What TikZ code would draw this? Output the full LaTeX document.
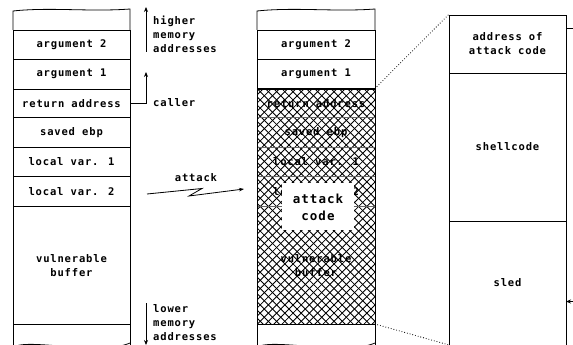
\documentclass[tikz,border=0pt]{standalone}
\usepackage{fontspec}
\setmainfont{DejaVu Sans Mono}[LetterSpace=8,BoldFont={DejaVu Sans Mono Bold}]
\usetikzlibrary{arrows.meta}
\begin{document}
\begin{tikzpicture}[x=1pt,y=-1pt,
  every node/.style={font=\fontsize{10.5}{14}\selectfont\bfseries, inner sep=0pt},
  cell/.style={draw, line width=0.8pt, minimum width=117pt},
  edge/.style={line width=0.8pt},
  faint/.style={line width=0.5pt, black!60},
  hatchline/.style={line width=0.85pt},
  arr/.style={line width=0.8pt, -{Stealth[length=5pt,width=4pt]}},
  dots/.style={line width=1.1pt, line cap=round, dash pattern=on 0pt off 2.8pt}]
\useasboundingbox (0,0) rectangle (573,345);
% ---------- column 1 ----------
\draw[edge] (13,30) -- (13,11) .. controls (50,7) and (90,12) .. (130,9) -- (130,30);
\node[cell, minimum height=29.5pt] (a2) at (71.5,44.75) {argument 2};
\node[cell, minimum height=29.5pt] (a1) at (71.5,74.25) {argument 1};
\node[cell, minimum height=28.5pt] (ra) at (71.5,103.25) {return address};
\node[cell, minimum height=29.5pt] (eb) at (71.5,132.25) {saved ebp};
\node[cell, minimum height=29.5pt] (l1) at (71.5,161.75) {local var. 1};
\node[cell, minimum height=30pt] (l2) at (71.5,191.5) {local var. 2};
\node[cell, minimum height=117.5pt, align=center] (vb) at (71.5,265.25) {vulnerable\\buffer};
\draw[edge] (13,324) -- (13,347);
\draw[edge] (130,324) -- (130,347);
\draw[edge] (13,347) .. controls (30,338) and (100,356) .. (130,343);
% ---------- annotations ----------
\coordinate (hiB) at (146,52);
\coordinate (hiT) at (146,7);
\draw[arr] (hiB) -- (hiT);
\node[anchor=west, align=left] (hi) at (153,34) {higher\\memory\\addresses};
\coordinate (cl) at (146,72);
\draw[arr] (ra.east) -| (cl);
\node[anchor=west] (caller) at (153,103) {caller};
\coordinate (loT) at (146,303);
\coordinate (loB) at (146,345);
\draw[arr] (loT) -- (loB);
\node[anchor=west, align=left] (lo) at (153,323) {lower\\memory\\addresses};
% attack arrow
\coordinate (at0) at (147,194);
\coordinate (at1) at (202,188.5);
\coordinate (at2) at (189,196);
\coordinate (at3) at (244,189);
\draw[line width=0.8pt, -{Stealth[length=5pt,width=3.5pt]}] (at0) -- (at1) -- (at2) -- (at3);
\node (attack) at (196,177.5) {attack};
% ---------- column 2 ----------
\begin{scope}
\clip (257,88.5) rectangle (375,324);
\foreach \k in {-32,...,46} {
  \draw[hatchline] ({257+\k*8.2},88.5) -- ({257+\k*8.2+236},324.5);
  \draw[hatchline] ({257+\k*8.2},324.5) -- ({257+\k*8.2+236},88.5);
}
\end{scope}
\draw[edge] (257,30) -- (257,11) .. controls (295,7) and (335,12) .. (375,9) -- (375,30);
\node[cell, minimum height=29.5pt, minimum width=118pt] (b2) at (316,44.75) {argument 2};
\node[cell, minimum height=29.5pt, minimum width=118pt] (b1) at (316,74.25) {argument 1};
\draw[faint] (257,117.5) -- (375,117.5);
\draw[faint] (257,147) -- (375,147);
\draw[faint] (257,176.5) -- (375,176.5);
\draw[faint] (257,206) -- (375,206);
\node (bra) at (316,103.25) {return address};
\node (beb) at (316,132.25) {saved ebp};
\node (bl1) at (316,161.75) {local var. 1};
\node (bl2) at (316,191.5) {local var. 2};
\node[align=center] (bvb) at (316,265.25) {vulnerable\\buffer};
\fill[white] (282,183) rectangle (354,230);
\node[align=center, font=\fontsize{12.5}{17}\selectfont\bfseries] (code) at (318,207) {attack\\code};
\draw[edge] (257,88.5) rectangle (375,324);
\draw[edge] (257,324) -- (257,347);
\draw[edge] (375,324) -- (375,347);
\draw[edge] (257,347) .. controls (274,338) and (345,356) .. (375,343);
\coordinate (cT) at (375,88.5);
\coordinate (cB) at (375,324);
% ---------- column 3 ----------
\node[cell, minimum height=58pt, align=center] (ad) at (507.5,44) {address of\\attack code};
\node[cell, minimum height=148pt] (sc) at (507.5,147) {shellcode};
\draw[edge] (449,221) -- (449,347);
\draw[edge] (566,221) -- (566,347);
\node (sled) at (507.5,283) {sled};
\draw[dots] (cT) -- (ad.north west);
\coordinate (dB) at (449,345);
\draw[dots] (cB) -- (dB);
\coordinate (pT) at (575,28.5);
\draw[edge] (566,28.5) -- (pT);
\coordinate (pS) at (575,301.5);
\coordinate (pE) at (566,301.5);
\draw[line width=0.8pt, -{Stealth[length=5pt,width=4pt]}] (pS) -- (pE);
\end{tikzpicture}
\end{document}
